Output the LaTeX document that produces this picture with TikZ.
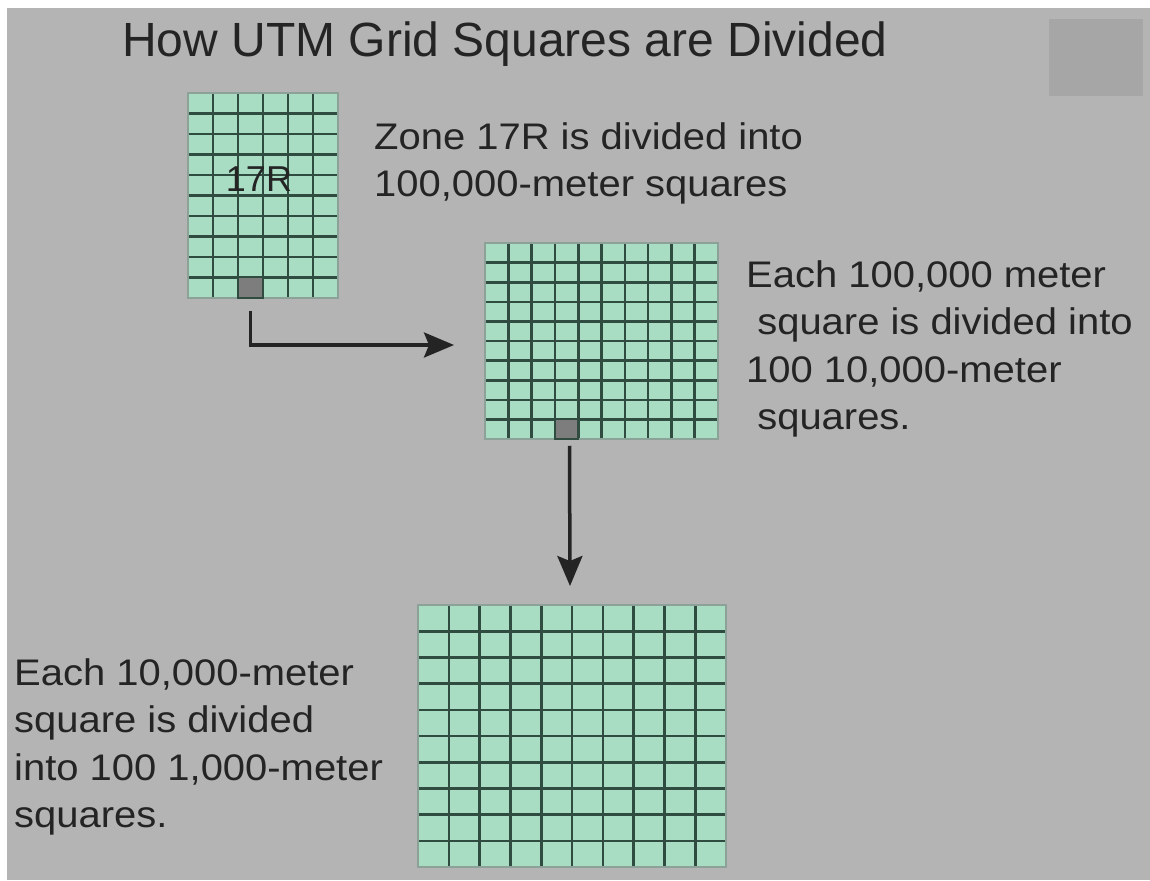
\documentclass[tikz,border=0pt]{standalone}
\usepackage{fontspec}
\setmainfont{Liberation Sans}
\newfontfamily\wideface[FakeStretch=1.08]{Liberation Sans}
\usetikzlibrary{arrows.meta,calc}

\definecolor{slide}{RGB}{180,180,180}
\definecolor{patch}{RGB}{166,166,166}
\definecolor{mint}{RGB}{168,221,196}
\definecolor{gridink}{RGB}{48,76,64}
\definecolor{rim}{RGB}{140,162,152}
\definecolor{cellgray}{RGB}{125,125,125}
\definecolor{ink}{RGB}{36,36,36}

\tikzset{
  gridbox/.style 2 args={draw=rim,line width=2pt,fill=mint,inner sep=0pt,
    path picture={
      \foreach \i in {1,...,#1}
        \draw[gridink,line width=2.6pt]
          ($(path picture bounding box.north west)!{\i/#1}!(path picture bounding box.north east)$) --
          ($(path picture bounding box.south west)!{\i/#1}!(path picture bounding box.south east)$);
      \foreach \j in {1,...,#2}
        \draw[gridink,line width=2.6pt]
          ($(path picture bounding box.north west)!{\j/#2}!(path picture bounding box.south west)$) --
          ($(path picture bounding box.north east)!{\j/#2}!(path picture bounding box.south east)$);
    }},
  cellbox/.style={draw=gridink,line width=1.5pt,fill=cellgray,inner sep=0pt},
  txt/.style={font=\wideface\fontsize{37}{47.5}\selectfont,text=ink,align=left,inner sep=0pt,anchor=north west},
  pointer/.style={draw=ink,line width=3.5pt,-{Stealth[length=30pt,width=25pt,inset=5pt]}}
}

\begin{document}
\begin{tikzpicture}[x=1pt,y=-1pt]
\useasboundingbox (0,0) rectangle (1150,880);
\fill[white] (0,0) rectangle (1150,880);
\fill[slide] (7,8) rectangle (1150,880);
\fill[patch] (1049,19) rectangle (1143,96);

\node[font=\fontsize{48}{58}\selectfont,text=ink,inner sep=0pt,anchor=base west] (title) at (122,57) {How UTM Grid Squares are Divided};

% the three grids
\node[gridbox={6}{10},minimum width=150pt,minimum height=205pt] (zone) at (263,195.5) {};
\node[cellbox,minimum width=25pt,minimum height=20.5pt] (zcell) at (250.5,287.75) {};
\node[font=\fontsize{36}{40}\selectfont,text=ink,inner sep=0pt] (zlabel) at (259,179) {17R};

\node[gridbox={10}{10},minimum width=233pt,minimum height=196pt] (mid) at (601.5,341) {};
\node[cellbox,minimum width=23.3pt,minimum height=19.6pt] (mcell) at (566.5,429.2) {};

\node[gridbox={10}{10},minimum width=308pt,minimum height=262pt] (fine) at (572,736) {};

% arrows
\draw[pointer] ([yshift=-12pt]zcell.south) |- ([xshift=-30pt,yshift=-4pt]mid.west);
\draw[pointer] ([xshift=3pt,yshift=-6pt]mcell.south) -- ([xshift=-2pt,yshift=18pt]fine.north);

% texts
\node[txt] (zonetext) at (374,122) {Zone 17R is divided into\\100,000-meter squares};
\node[txt] (midtext) at (746,260) {Each 100,000 meter\\\ square is divided into\\100 10,000-meter\\\ squares.};
\node[txt] (finetext) at (14,658) {Each 10,000-meter\\square is divided\\into 100 1,000-meter\\squares.};
\end{tikzpicture}
\end{document}
